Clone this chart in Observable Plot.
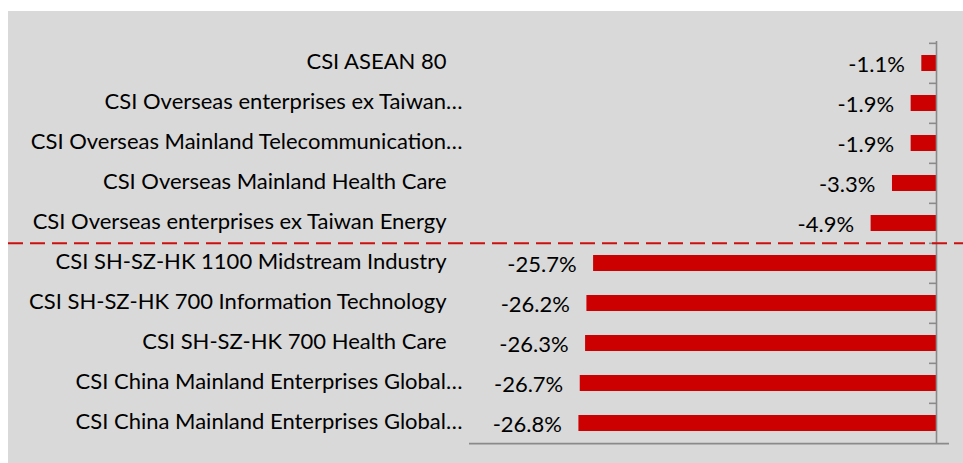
<!DOCTYPE html>
<html>
<head>
<meta charset="utf-8">
<script src="https://cdn.jsdelivr.net/npm/d3@7"></script>
<script src="https://cdn.jsdelivr.net/npm/@observablehq/plot@0.6"></script>
<style>
  html, body { margin: 0; padding: 0; background: #ffffff; }
  #chart { position: absolute; left: 8px; top: 11px; }
  #chart svg { display: block; }
</style>
</head>
<body>
<div id="chart"></div>
<script>
// ---- data ----
const labels = [
  "CSI ASEAN 80",
  "CSI Overseas enterprises ex Taiwan…",
  "CSI Overseas Mainland Telecommunication…",
  "CSI Overseas Mainland Health Care",
  "CSI Overseas enterprises ex Taiwan Energy",
  "CSI SH-SZ-HK 1100 Midstream Industry",
  "CSI SH-SZ-HK 700 Information Technology",
  "CSI SH-SZ-HK 700 Health Care",
  "CSI China Mainland Enterprises Global…",
  "CSI China Mainland Enterprises Global…"
];
const values = [-1.1, -1.9, -1.9, -3.3, -4.9, -25.7, -26.2, -26.3, -26.7, -26.8];
const separatorBefore = 5; // dashed line between the two groups
const xDomain = [-35, 0];

// ---- layout ----
const W = 955, H = 452;
const mL = 461, mR = 27, mT = 30, mB = 19;
const n = labels.length;
const step = (H - mT - mB) / n;
const frameW = W - mL - mR;

const keys = labels.map((_, i) => "k" + i);
const data = keys.map((k, i) => ({key: k, label: labels[i], value: values[i], truncated: labels[i].endsWith("…")}));
const fmt = v => v.toFixed(1) + "%";
const font = "Lato, 'Open Sans', sans-serif";
const fs = 22;

const chart = Plot.plot({
  width: W, height: H,
  marginLeft: mL, marginRight: mR, marginTop: mT, marginBottom: mB,
  style: {background: "#d9d9d9", fontFamily: font, color: "#000"},
  x: {domain: xDomain, axis: null},
  y: {domain: keys, axis: null, paddingInner: 0.6, paddingOuter: 0.3, align: 0.5},
  marks: [
    // bars
    Plot.barX(data, {x: "value", y: "key", fill: "#cc0000"}),
    // vertical axis at zero
    Plot.ruleX([0], {stroke: "#8a8a8a", strokeWidth: 1.6}),
    // tick marks at band boundaries (left side of axis)
    Plot.ruleY(keys, {y: d => d, dy: -step / 2, insetLeft: frameW - 7, stroke: "#8a8a8a", strokeWidth: 1.6}),
    // bottom axis line
    Plot.ruleY([keys[n - 1]], {y: d => d, dy: step / 2, insetRight: -13, stroke: "#8a8a8a", strokeWidth: 1.8}),
    // dashed separator
    Plot.ruleY([keys[separatorBefore]], {y: d => d, dy: -step / 2, insetLeft: -mL, insetRight: -mR, stroke: "#cc1010", strokeWidth: 2, strokeDasharray: "15,7"}),
    // category labels
    Plot.text(data.filter(d => !d.truncated), {y: "key", text: "label", frameAnchor: "left", textAnchor: "end", dx: -23, dy: -2, fontSize: fs, fill: "#000"}),
    Plot.text(data.filter(d => d.truncated), {y: "key", text: "label", frameAnchor: "left", textAnchor: "end", dx: -7, dy: -2, fontSize: fs, fill: "#000"}),
    // value labels
    Plot.text(data, {x: "value", y: "key", text: d => fmt(d.value), textAnchor: "end", dx: -17, dy: 1, fontSize: fs, fill: "#000"})
  ]
});
document.getElementById("chart").appendChild(chart);
</script>
</body>
</html>
